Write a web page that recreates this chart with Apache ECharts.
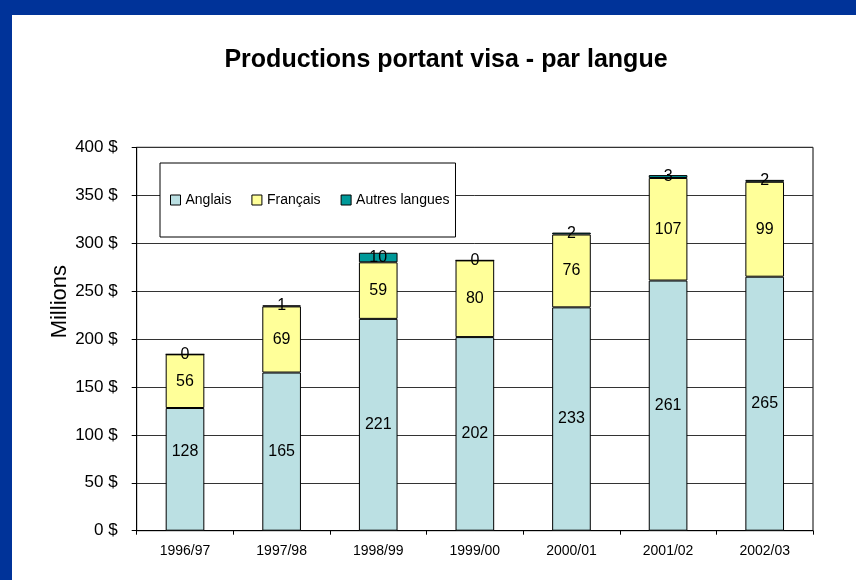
<!DOCTYPE html>
<html>
<head>
<meta charset="utf-8">
<script src="https://cdn.jsdelivr.net/npm/echarts@6/dist/echarts.min.js"></script>
<style>
  html, body { margin: 0; padding: 0; }
  body { width: 856px; height: 580px; background: #003399; position: relative; overflow: hidden; }
  #chart { position: absolute; left: 12px; top: 15px; width: 844px; height: 565px; background: #fff; }
</style>
</head>
<body>
<div id="chart"></div>
<script>
const years = ["1996/97", "1997/98", "1998/99", "1999/00", "2000/01", "2001/02", "2002/03"];
const anglais = [128, 165, 221, 202, 233, 261, 265];
const francais = [56, 69, 59, 80, 76, 107, 99];
const autres = [0, 1, 10, 0, 2, 3, 2];
const yTicks = [0, 50, 100, 150, 200, 250, 300, 350, 400];

const font = 'Arial, "Liberation Sans", sans-serif';
const chart = echarts.init(document.getElementById("chart"));

// libellés centrés dans chaque segment, comme dans Excel
const barLabel = {
  show: true,
  position: "inside",
  color: "#000",
  fontSize: 16,
  fontFamily: font
};

function makeSeries(name, data, color) {
  return {
    name: name,
    type: "bar",
    stack: "total",
    barWidth: "40%",
    data: data,
    itemStyle: { color: color, borderColor: "#000", borderWidth: 1 },
    label: barLabel
  };
}

// dans l'original, l'étiquette de la 1re barre a été remontée à la main
const anglaisData = anglais.map((v, i) =>
  i === 0 ? { value: v, label: { offset: [0, -18] } } : v
);

chart.setOption({
  animation: false,
  title: {
    text: "Productions portant visa - par langue",
    left: 429,
    top: 28,
    textAlign: "center",
    textStyle: { fontSize: 25, fontWeight: "bold", color: "#000", fontFamily: font }
  },
  // titre de l'axe placé comme dans l'original (pas centré sur l'axe)
  graphic: [{
    type: "text",
    left: 37,
    top: 250,
    rotation: Math.PI / 2,
    style: {
      text: "Millions",
      font: "22px " + font,
      fill: "#000"
    }
  }],
  legend: {
    left: 148,
    top: 148,
    orient: "horizontal",
    backgroundColor: "#fff",
    borderColor: "#000",
    borderWidth: 1,
    padding: [30, 6, 30, 10],
    itemWidth: 10,
    itemHeight: 10,
    itemGap: 20,
    icon: "rect",
    itemStyle: { borderColor: "#000", borderWidth: 1 },
    textStyle: { fontSize: 14, color: "#000", fontFamily: font },
    data: ["Anglais", "Français", "Autres langues"]
  },
  grid: {
    left: 124.7,
    right: 43,
    top: 132.3,
    bottom: 49.3,
    show: true,
    borderColor: "#000",
    borderWidth: 1,
    containLabel: false
  },
  xAxis: {
    type: "category",
    data: years,
    axisLine: { lineStyle: { color: "#000", width: 1 } },
    axisTick: { show: true, length: 4, lineStyle: { color: "#000" } },
    axisLabel: { color: "#000", fontSize: 14, fontFamily: font, margin: 13 }
  },
  yAxis: {
    type: "value",
    min: yTicks[0],
    max: yTicks[yTicks.length - 1],
    interval: 50,
    axisLine: { show: true, lineStyle: { color: "#000", width: 1 } },
    axisTick: { show: true, length: 5, lineStyle: { color: "#000" } },
    axisLabel: {
      color: "#000",
      fontSize: 17,
      fontFamily: font,
      margin: 19,
      formatter: v => v + " $"
    },
    splitLine: { show: true, lineStyle: { color: "#333", width: 1 } }
  },
  series: [
    makeSeries("Anglais", anglaisData, "#bbe0e3"),
    makeSeries("Français", francais, "#ffff99"),
    makeSeries("Autres langues", autres, "#009999")
  ]
});
</script>
</body>
</html>
